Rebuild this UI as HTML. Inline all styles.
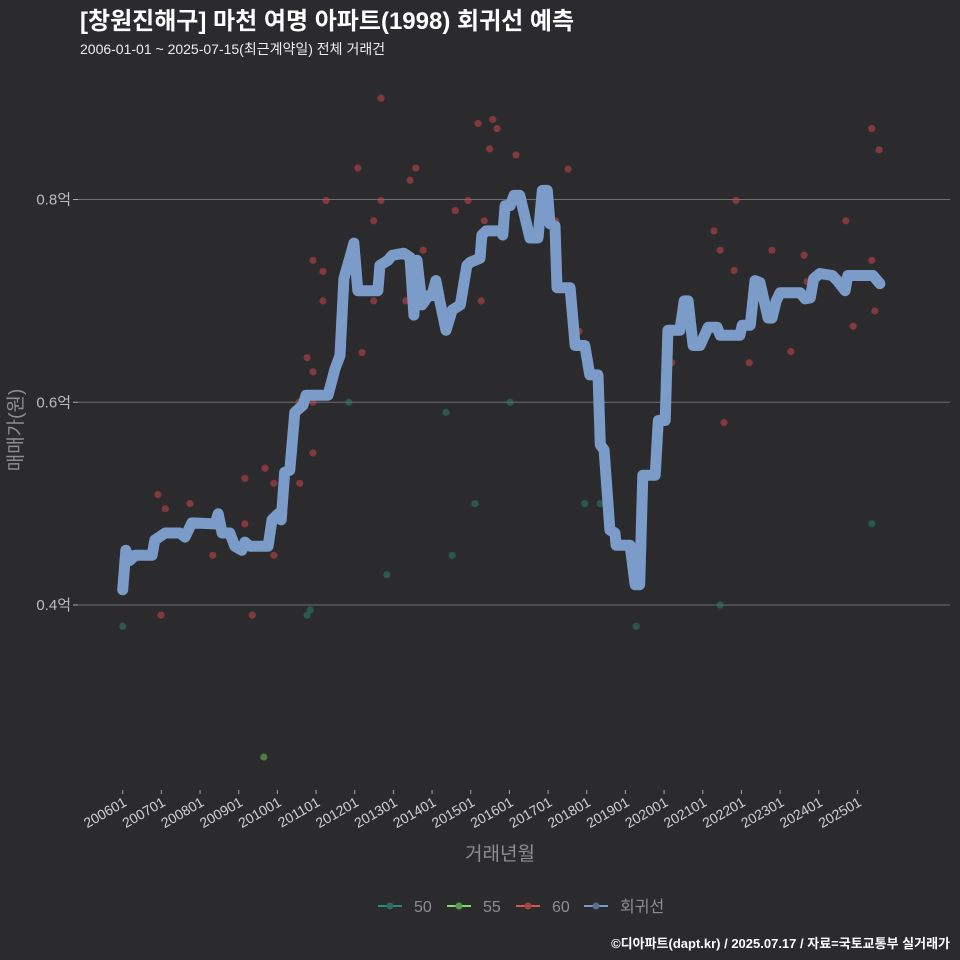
<!DOCTYPE html>
<html><head><meta charset="utf-8"><style>
html,body{margin:0;padding:0;background:#2b2a2c;}
svg{display:block;font-family:"Liberation Sans","Noto Sans CJK KR",sans-serif;}
</style></head><body>
<svg id="chart" width="960" height="960" viewBox="0 0 960 960" xmlns="http://www.w3.org/2000/svg">
<rect width="960" height="960" fill="#2b2a2c"/>
<text x="80" y="29" fill="#ffffff" font-size="24" font-weight="bold">[창원진해구] 마천 여명 아파트(1998) 회귀선 예측</text>
<text x="80" y="54" fill="#eeeeee" font-size="14">2006-01-01 ~ 2025-07-15(최근계약일) 전체 거래건</text>
<g id="grid"></g>
<g id="points"></g>
<g id="line"></g>
<g id="xaxis"></g>
<text x="500" y="860" fill="#8e8e8e" font-size="19" text-anchor="middle">거래년월</text>
<text transform="translate(22,430) rotate(-90)" fill="#8e8e8e" font-size="19" text-anchor="middle">매매가(원)</text>
<g>
 <g><line x1="378" y1="906" x2="402" y2="906" stroke="#2a8a7a" stroke-width="2"/><circle cx="390" cy="906" r="3.5" fill="#2a6b5e"/><text x="414" y="912" fill="#8e8e8e" font-size="16">50</text></g>
 <g><line x1="447" y1="906" x2="471" y2="906" stroke="#7ddc6f" stroke-width="2"/><circle cx="459" cy="906" r="3.5" fill="#5a9a50"/><text x="483" y="912" fill="#8e8e8e" font-size="16">55</text></g>
 <g><line x1="516" y1="906" x2="540" y2="906" stroke="#d9534f" stroke-width="2"/><circle cx="528" cy="906" r="3.5" fill="#a04444"/><text x="552" y="912" fill="#8e8e8e" font-size="16">60</text></g>
 <g><line x1="584" y1="906" x2="608" y2="906" stroke="#7b9cc9" stroke-width="2"/><circle cx="596" cy="906" r="3.5" fill="#5a7090"/><text x="620" y="912" fill="#8e8e8e" font-size="16">회귀선</text></g>
</g>
<text x="950" y="948" fill="#ffffff" font-size="13" font-weight="bold" text-anchor="end">©디아파트(dapt.kr) / 2025.07.17 / 자료=국토교통부 실거래가</text>
</svg>
<script>
// years since 2006-01
const lineT = [0,0.08,0.19,0.32,0.76,0.83,1.10,1.48,1.61,1.79,2.39,2.47,2.57,2.77,2.90,3.08,3.16,3.29,3.76,3.86,4.02,4.10,4.19,4.32,4.45,4.66,4.74,5.31,5.49,5.62,5.72,5.87,5.98,6.08,6.60,6.65,6.86,6.97,7.27,7.43,7.53,7.61,7.74,7.90,7.99,8.10,8.20,8.36,8.52,8.73,8.90,8.98,9.24,9.29,9.40,9.76,9.83,9.89,10.02,10.12,10.27,10.53,10.74,10.85,10.98,11.05,11.18,11.23,11.57,11.65,11.70,11.95,12.08,12.29,12.35,12.45,12.60,12.73,12.76,13.12,13.25,13.37,13.45,13.77,13.85,14.03,14.10,14.41,14.52,14.62,14.75,14.93,15.14,15.37,15.45,15.96,16.02,16.23,16.35,16.48,16.69,16.79,16.90,17.00,17.52,17.65,17.78,17.87,18.03,18.35,18.48,18.68,18.75,19.40,19.58];
const lineV = [0.415,0.454,0.444,0.449,0.449,0.464,0.471,0.471,0.467,0.481,0.480,0.490,0.471,0.471,0.458,0.454,0.462,0.458,0.458,0.484,0.490,0.484,0.531,0.533,0.590,0.597,0.607,0.607,0.633,0.646,0.722,0.742,0.757,0.710,0.710,0.735,0.740,0.745,0.747,0.743,0.686,0.740,0.696,0.705,0.705,0.720,0.700,0.671,0.691,0.696,0.735,0.738,0.742,0.765,0.769,0.769,0.765,0.794,0.794,0.804,0.804,0.762,0.762,0.809,0.809,0.776,0.774,0.713,0.713,0.678,0.656,0.656,0.627,0.627,0.558,0.553,0.474,0.471,0.459,0.459,0.420,0.420,0.528,0.528,0.582,0.582,0.671,0.671,0.700,0.700,0.656,0.656,0.674,0.674,0.666,0.666,0.676,0.676,0.720,0.718,0.683,0.683,0.700,0.708,0.708,0.702,0.703,0.722,0.727,0.725,0.720,0.710,0.725,0.725,0.717];
const redT = [0.91,1.10,1.74,3.16,3.68,3.91,3.16,2.33,0.99,3.35,3.91,4.58,4.92,4.77,4.92,4.92,4.56,4.92,5.18,5.18,5.26,6.08,6.19,6.49,6.68,6.68,6.49,7.32,7.43,7.58,7.77,8.60,8.93,9.35,9.27,9.19,9.57,9.68,9.49,10.17,11.20,11.52,11.80,14.20,15.55,15.29,15.45,15.86,15.81,16.20,16.79,17.28,17.62,17.70,18.70,18.89,19.37,19.45,19.37,19.56];
const redV = [0.509,0.495,0.500,0.525,0.535,0.520,0.480,0.449,0.390,0.390,0.449,0.520,0.550,0.644,0.630,0.600,0.600,0.740,0.729,0.700,0.799,0.831,0.649,0.779,0.799,0.900,0.700,0.700,0.819,0.831,0.750,0.789,0.799,0.779,0.700,0.875,0.879,0.870,0.850,0.844,0.779,0.830,0.670,0.639,0.580,0.769,0.750,0.799,0.730,0.639,0.750,0.650,0.745,0.719,0.779,0.675,0.740,0.690,0.870,0.849];
const tealT = [0,4.77,4.85,5.85,6.83,8.36,8.52,9.11,10.02,11.95,12.35,13.28,15.45,19.37];
const tealV = [0.379,0.390,0.395,0.600,0.430,0.590,0.449,0.500,0.600,0.500,0.500,0.379,0.400,0.480];
const greenT = [3.65];
const greenV = [0.250];
const yTicks = [0.4,0.6,0.8];
const yTickLabels = ["0.4억","0.6억","0.8억"];
const xTickLabels = ["200601","200701","200801","200901","201001","201101","201201","201301","201401","201501","201601","201701","201801","201901","202001","202101","202201","202301","202401","202501"];

const NS="http://www.w3.org/2000/svg";
function X(t){return 122.7+t*38.67;}
function Y(v){return 605-(v-0.4)*1013.75;}
function mk(tag,attrs,parent){const e=document.createElementNS(NS,tag);for(const k in attrs)e.setAttribute(k,attrs[k]);parent.appendChild(e);return e;}

const grid=document.getElementById('grid');
yTicks.forEach((v,i)=>{
  const l=mk('line',{x1:78,x2:950,y1:Y(v),y2:Y(v),stroke:'#6e6e6e','stroke-width':1},grid);
  
  
  const tk=mk('line',{x1:73,x2:78,y1:Y(v),y2:Y(v),stroke:'#aaa','stroke-width':1},grid);
  
  
  const t=mk('text',{x:71,y:Y(v)+5,fill:'#bdbdbd','font-size':15,'text-anchor':'end'},grid);
  t.textContent=yTickLabels[i];
  
  
});

const xa=document.getElementById('xaxis');
xTickLabels.forEach((lab,i)=>{
  const x=X(i);
  const tk=mk('line',{x1:x,x2:x,y1:790,y2:794,stroke:'#aaa','stroke-width':1},xa);
  
  
  const t=mk('text',{transform:`translate(${x+5},805) rotate(-30)`,fill:'#d0d0d0','font-size':14,'text-anchor':'end'},xa);
  t.textContent=lab;
  
  
});

const pts=document.getElementById('points');
function drawPts(T,V,fill,name){
  T.forEach((t,i)=>{
    const c=mk('circle',{cx:X(t),cy:Y(V[i]),r:3.6,fill:fill},pts);
    
    
  });
}
drawPts(tealT,tealV,'rgba(42,120,100,0.6)','point-50');
drawPts(greenT,greenV,'rgba(110,190,90,0.55)','point-55');
drawPts(redT,redV,'rgba(200,70,75,0.55)','point-60');

const lg=document.getElementById('line');
const d=lineT.map((t,i)=>(i?'L':'M')+X(t).toFixed(1)+','+Y(lineV[i]).toFixed(1)).join('');
const p=mk('path',{d:d,fill:'none',stroke:'#7b9cc9','stroke-width':11,'stroke-linejoin':'round','stroke-linecap':'round'},lg);


</script>
</body></html>
